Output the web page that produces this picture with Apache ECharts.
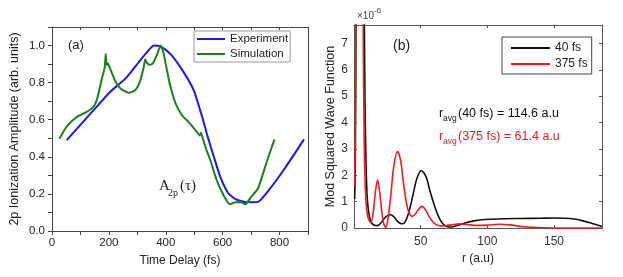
<!DOCTYPE html>
<html><head><meta charset="utf-8">
<script src="https://cdn.jsdelivr.net/npm/echarts@6/dist/echarts.min.js"></script>
<style>html,body{margin:0;padding:0;background:#fff}#c{width:623px;height:277px}</style>
</head><body><div id="c"></div>
<script>
// ---- Panel (a) data ----
const expX = [52, 110, 160, 204, 257, 310, 340, 358, 381, 416, 457, 498, 527, 545, 569, 592, 619, 645, 683, 724, 757, 815, 886];
const expY = [0.49, 0.59, 0.675, 0.75, 0.82, 0.92, 0.975, 1.0, 0.995, 0.955, 0.87, 0.76, 0.62, 0.52, 0.40, 0.29, 0.205, 0.172, 0.155, 0.157, 0.21, 0.33, 0.494];
const simX = [26, 52, 87, 122, 146, 160, 175, 185, 189, 192, 196, 204, 222, 240, 269, 293, 310, 322, 328, 334, 344, 355, 369, 382, 392, 404, 416, 434, 457, 480, 510, 520, 524, 530, 540, 557, 580, 604, 625, 645, 663, 680, 698, 724, 753, 782];
const simY = [0.497, 0.564, 0.615, 0.642, 0.67, 0.72, 0.82, 0.88, 0.955, 0.895, 0.905, 0.877, 0.81, 0.77, 0.745, 0.76, 0.81, 0.88, 0.926, 0.905, 0.896, 0.905, 0.95, 1.0, 0.96, 0.868, 0.78, 0.69, 0.624, 0.588, 0.533, 0.515, 0.53, 0.5, 0.45, 0.38, 0.27, 0.19, 0.144, 0.155, 0.155, 0.144, 0.18, 0.229, 0.364, 0.494];
const aXTickLabels = ['0', '200', '400', '600', '800'];
const aYTickLabels = ['0.0', '0.2', '0.4', '0.6', '0.8', '1.0'];

// ---- Panel (b) data (units of 1e-6) ----
const r40 = [0.5, 1.0, 1.6, 3, 5, 6.5, 7.5, 8.2, 9, 10, 11.5, 13.5, 15.5, 17.7, 20, 22.5, 25, 27.5, 30, 32.5, 35, 36.5, 38.5, 41, 44, 47, 50.5, 54, 57, 60, 63, 66, 69, 71.6, 75, 79, 84, 90, 96, 102, 112, 125, 140, 150, 158, 165, 171, 177, 182, 186];
const v40 = [1.1, 2.5, 9, 30, 35, 20, 10, 5, 2.5, 1.1, 0.45, 0.17, 0.1, 0.09, 0.18, 0.35, 0.47, 0.5, 0.42, 0.26, 0.17, 0.16, 0.24, 0.58, 1.2, 1.85, 2.18, 1.95, 1.4, 0.9, 0.48, 0.2, 0.07, 0.04, 0.06, 0.12, 0.2, 0.27, 0.31, 0.33, 0.35, 0.36, 0.37, 0.38, 0.37, 0.34, 0.28, 0.2, 0.12, 0.06];
const r375 = [0.5, 1.0, 1.6, 3, 5, 6.2, 6.9, 7.6, 8.5, 9.5, 10.8, 12.7, 14.3, 16, 17.7, 19.3, 21, 22.5, 23.9, 25.5, 27.5, 30, 32.6, 35, 37, 39.5, 41.5, 43.5, 45.5, 48, 51, 54, 56.5, 59, 62, 65, 69, 73, 79, 85, 92, 100, 109, 117, 125, 133, 142, 155, 170, 186];
const v375 = [1.6, 4, 12, 40, 35, 15, 7.5, 3.5, 1.5, 0.7, 0.35, 0.2, 0.55, 1.35, 1.83, 1.35, 0.55, 0.12, 0.02, 0.35, 1.2, 2.4, 2.9, 2.55, 1.75, 0.9, 0.55, 0.44, 0.5, 0.68, 0.82, 0.66, 0.42, 0.24, 0.12, 0.08, 0.09, 0.12, 0.16, 0.13, 0.1, 0.11, 0.14, 0.12, 0.06, 0.03, 0.01, 0, 0, 0];
const bXTickLabels = ['50', '100', '150'];
const bYTickLabels = ['0', '1', '2', '3', '4', '5', '6', '7'];

const pairs = (xs, ys) => xs.map((x, i) => [x, ys[i]]);
const SANS = 'Liberation Sans, Arial, sans-serif';
const SERIF = 'Liberation Serif, Times New Roman, serif';

const chart = echarts.init(document.getElementById('c'), null, {renderer: 'canvas'});
const frameA = '#444';
const frameB = '#555';

const option = {
  animation: false,
  backgroundColor: '#fff',
  grid: [
    {left: 52, top: 27, width: 256, height: 204, outerBoundsMode: 'none', containLabel: false},
    {left: 354, top: 25, width: 248, height: 203, outerBoundsMode: 'none', containLabel: false}
  ],
  xAxis: [
    {gridIndex: 0, type: 'value', position: 'bottom', min: 0, max: 900, interval: 100,
     axisLine: {onZero: false, lineStyle: {color: frameA, width: 1}},
     axisTick: {show: true, inside: false, length: 4, lineStyle: {color: frameA}},
     axisLabel: {formatter: v => aXTickLabels.includes(String(Math.round(v))) ? String(Math.round(v)) : '', color: '#222', fontSize: 11.5, fontFamily: SANS, margin: 6},
     splitLine: {show: false},
     name: 'Time Delay (fs)', nameLocation: 'middle', nameGap: 24,
     nameTextStyle: {color: '#222', fontSize: 12, fontFamily: SANS}},
    {gridIndex: 0, type: 'value', position: 'top', min: 0, max: 900, interval: 100,
     axisLine: {onZero: false, lineStyle: {color: frameA, width: 1}},
     axisTick: {show: true, inside: true, length: 3, lineStyle: {color: frameA}},
     axisLabel: {show: false}, splitLine: {show: false}},
    {gridIndex: 1, type: 'value', position: 'bottom', min: 0, max: 186, interval: 50,
     axisLine: {onZero: false, lineStyle: {color: frameB, width: 1}},
     axisTick: {show: true, inside: true, length: 3, lineStyle: {color: frameB}},
     axisLabel: {formatter: v => bXTickLabels.includes(String(Math.round(v))) ? String(Math.round(v)) : '', color: '#333', fontSize: 12, fontFamily: SANS, margin: 8},
     splitLine: {show: false},
     name: 'r (a.u)', nameLocation: 'middle', nameGap: 25,
     nameTextStyle: {color: '#222', fontSize: 12, fontFamily: SANS}},
    {gridIndex: 1, type: 'value', position: 'top', min: 0, max: 186, interval: 50,
     axisLine: {onZero: false, lineStyle: {color: frameB, width: 1}},
     axisTick: {show: true, inside: true, length: 3, lineStyle: {color: frameB}},
     axisLabel: {show: false}, splitLine: {show: false}}
  ],
  yAxis: [
    {gridIndex: 0, type: 'value', position: 'left', min: 0, max: 1.1, interval: 0.1,
     axisLine: {show: true, onZero: false, lineStyle: {color: frameA, width: 1}},
     axisTick: {show: true, inside: false, length: 4, lineStyle: {color: frameA}},
     axisLabel: {formatter: v => { const s = (Math.round(v * 10) / 10).toFixed(1); return aYTickLabels.includes(s) ? s : ''; }, color: '#222', fontSize: 11.5, fontFamily: SANS, margin: 7},
     splitLine: {show: false},
     name: '2p Ionization Amplitude (arb. units)', nameLocation: 'middle', nameRotate: 90, nameGap: 31,
     nameTextStyle: {color: '#222', fontSize: 12.5, fontFamily: SANS}},
    {gridIndex: 0, type: 'value', position: 'right', min: 0, max: 1.1, interval: 0.1,
     axisLine: {show: true, onZero: false, lineStyle: {color: frameA, width: 1}},
     axisTick: {show: false}, axisLabel: {show: false}, splitLine: {show: false}},
    {gridIndex: 1, type: 'value', position: 'left', min: 0, max: 7.7, interval: 1,
     axisLine: {show: true, onZero: false, lineStyle: {color: frameB, width: 1}},
     axisTick: {show: true, inside: true, length: 3, lineStyle: {color: frameB}},
     axisLabel: {formatter: v => bYTickLabels.includes(String(v)) ? String(v) : '', color: '#333', fontSize: 12, fontFamily: SANS, margin: 6},
     splitLine: {show: false},
     name: 'Mod Squared Wave Function', nameLocation: 'middle', nameRotate: 90, nameGap: 17,
     nameTextStyle: {color: '#222', fontSize: 12.5, fontFamily: SANS}},
    {gridIndex: 1, type: 'value', position: 'right', min: 0, max: 7.7, interval: 1,
     axisLine: {show: true, onZero: false, lineStyle: {color: frameB, width: 1}},
     axisTick: {show: true, inside: true, length: 3, lineStyle: {color: frameB}},
     axisLabel: {show: false}, splitLine: {show: false}}
  ],
  legend: [
    {data: ['Experiment', 'Simulation'], orient: 'vertical', left: 194, top: 31,
     icon: 'rect', itemWidth: 28, itemHeight: 2, itemGap: 3, padding: [2, 2, 2, 3],
     borderColor: '#999', borderWidth: 1, backgroundColor: '#fff',
     textStyle: {color: '#222', fontSize: 11.5, fontFamily: SANS}, selectedMode: false},
    {data: ['40 fs', '375 fs'], orient: 'vertical', left: 502, top: 37,
     icon: 'rect', itemWidth: 39, itemHeight: 2, itemGap: 4, padding: [5, 4, 4, 9],
     borderColor: '#444', borderWidth: 1, backgroundColor: '#fff',
     textStyle: {color: '#222', fontSize: 12, fontFamily: SANS}, selectedMode: false}
  ],
  series: [
    {type: 'line', name: 'Experiment', xAxisIndex: 0, yAxisIndex: 0, data: pairs(expX, expY),
     symbol: 'none', smooth: 0.2, lineStyle: {color: '#1a1ae6', width: 2}, itemStyle: {color: '#1a1ae6'}},
    {type: 'line', name: 'Simulation', xAxisIndex: 0, yAxisIndex: 0, data: pairs(simX, simY),
     symbol: 'none', smooth: 0.2, lineStyle: {color: '#1f7f1f', width: 2}, itemStyle: {color: '#1f7f1f'}},
    {type: 'line', name: '40 fs', xAxisIndex: 2, yAxisIndex: 2, data: pairs(r40, v40),
     symbol: 'none', smooth: 0.3, clip: true, lineStyle: {color: '#111', width: 1.6}, itemStyle: {color: '#111'}},
    {type: 'line', name: '375 fs', xAxisIndex: 2, yAxisIndex: 2, data: pairs(r375, v375),
     symbol: 'none', smooth: 0.3, clip: true, lineStyle: {color: '#e81e25', width: 1.6}, itemStyle: {color: '#e81e25'}}
  ],
  graphic: [
    {type: 'text', left: 68, top: 39, style: {text: '(a)', font: '13px ' + SANS, fill: '#222'}},
    {type: 'text', left: 393, top: 39, style: {text: '(b)', font: '14px ' + SANS, fill: '#222'}},
    {type: 'text', left: 159, top: 179, style: {text: 'A', font: '15px ' + SERIF, fill: '#222'}},
    {type: 'text', left: 168, top: 188, style: {text: '2p', font: '10px ' + SERIF, fill: '#222'}},
    {type: 'text', left: 180, top: 179, style: {text: '(τ)', font: '15px ' + SERIF, fill: '#222'}},
    {type: 'text', left: 439, top: 107, style: {text: 'r', font: '12.5px ' + SANS, fill: '#111'}},
    {type: 'text', left: 443, top: 114, style: {text: 'avg', font: '8.5px ' + SANS, fill: '#111'}},
    {type: 'text', left: 458, top: 107, style: {text: '(40 fs) = 114.6 a.u', font: '12.5px ' + SANS, fill: '#111'}},
    {type: 'text', left: 439, top: 130, style: {text: 'r', font: '12.5px ' + SANS, fill: '#e81e25'}},
    {type: 'text', left: 443, top: 137, style: {text: 'avg', font: '8.5px ' + SANS, fill: '#e81e25'}},
    {type: 'text', left: 458, top: 130, style: {text: '(375 fs) = 61.4 a.u', font: '12.5px ' + SANS, fill: '#e81e25'}},
    {type: 'text', left: 357, top: 11, style: {text: '×10', font: '10px ' + SANS, fill: '#444'}},
    {type: 'text', left: 374, top: 7, style: {text: '-6', font: '8px ' + SANS, fill: '#444'}}
  ]
};
chart.setOption(option);
</script>
</body></html>
